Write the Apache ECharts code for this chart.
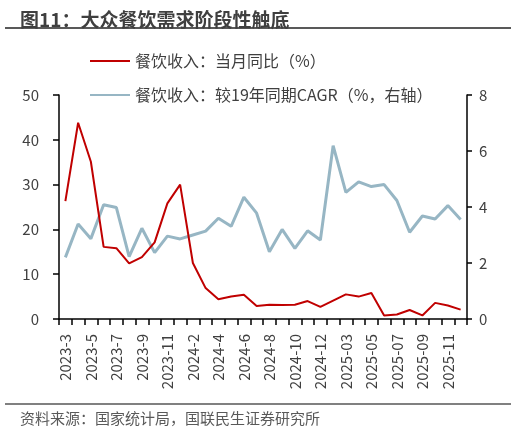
<!DOCTYPE html>
<html>
<head>
<meta charset="utf-8">
<script src="https://cdn.jsdelivr.net/npm/echarts@6/dist/echarts.min.js"></script>
<style>
html,body{margin:0;padding:0;background:#fff;}
#main{width:516px;height:432px;}
</style>
</head>
<body>
<div id="main"></div>
<script>
const categories = ['2023-3','2023-4','2023-5','2023-6','2023-7','2023-8','2023-9','2023-10','2023-11','2023-12',
  '2024-2','2024-3','2024-4','2024-5','2024-6','2024-7','2024-8','2024-9','2024-10','2024-11','2024-12',
  '2025-02','2025-03','2025-04','2025-05','2025-06','2025-07','2025-08','2025-09','2025-10','2025-11','2025-12'];
const yoyValues = [26.3,43.8,35.1,16.1,15.8,12.4,13.8,17.1,25.8,30.0,
  12.5,6.9,4.4,5.0,5.4,2.9,3.2,3.1,3.2,4.0,2.7,
  4.1,5.5,5.0,5.8,0.8,1.0,2.0,0.8,3.6,3.0,2.1];
const cagrValues = [2.2,3.39,2.87,4.08,3.98,2.23,3.24,2.37,2.96,2.86,
  3.0,3.14,3.6,3.31,4.35,3.78,2.40,3.2,2.52,3.15,2.82,
  6.19,4.52,4.9,4.73,4.8,4.23,3.1,3.68,3.57,4.05,3.55];
const leftTicks = {min:0, max:50, interval:10};
const rightTicks = {min:0, max:8, interval:2};
const seriesNames = ['餐饮收入：当月同比（%）','餐饮收入：较19年同期CAGR（%，右轴）'];
const titleText = '图11：大众餐饮需求阶段性触底';
const sourceText = '资料来源：国家统计局，国联民生证券研究所';

const FONT = '"Noto Sans CJK SC", "Noto Sans", sans-serif';
const chart = echarts.init(document.getElementById('main'));
chart.setOption({
  backgroundColor:'#fff',
  animation:false,
  textStyle:{fontFamily:FONT},
  title:[
    {text:titleText,left:15,top:5,textStyle:{fontSize:19,fontWeight:'bold',color:'#3f3f3f',fontFamily:FONT}},
    {text:sourceText,left:15,top:406,textStyle:{fontSize:15,fontWeight:'normal',color:'#595959',fontFamily:FONT}}
  ],
  graphic:[
    {type:'line',shape:{x1:5,y1:28,x2:511,y2:28},style:{stroke:'#595959',lineWidth:2}},
    {type:'line',shape:{x1:5,y1:404,x2:511,y2:404},style:{stroke:'#808080',lineWidth:2}}
  ],
  legend:{
    orient:'vertical',left:84,top:48,itemWidth:40,itemHeight:14,itemGap:18,
    itemStyle:{opacity:0},
    textStyle:{fontSize:16,color:'#404040',fontFamily:FONT},
    data:seriesNames
  },
  grid:{left:59,right:49,top:95,bottom:113,containLabel:false},
  xAxis:{
    type:'category',data:categories,boundaryGap:true,
    axisLine:{lineStyle:{color:'#000',width:1.5}},
    axisTick:{show:true,interval:0,length:6,lineStyle:{color:'#000',width:1.5}},
    axisLabel:{interval:1,rotate:90,fontSize:15,color:'#404040',margin:15,fontFamily:FONT}
  },
  yAxis:[
    {type:'value',min:leftTicks.min,max:leftTicks.max,interval:leftTicks.interval,position:'left',
     axisLine:{show:true,lineStyle:{color:'#000',width:1.5}},
     axisTick:{show:true,length:6,lineStyle:{color:'#000',width:1.5}},
     splitLine:{show:false},
     axisLabel:{fontSize:15,color:'#404040',margin:20,fontFamily:FONT}},
    {type:'value',min:rightTicks.min,max:rightTicks.max,interval:rightTicks.interval,position:'right',
     axisLine:{show:true,lineStyle:{color:'#000',width:1.5}},
     axisTick:{show:true,length:5,lineStyle:{color:'#000',width:1.5}},
     splitLine:{show:false},
     axisLabel:{fontSize:15,color:'#404040',margin:12,fontFamily:FONT}}
  ],
  series:[
    {name:seriesNames[0],type:'line',yAxisIndex:0,data:yoyValues,symbol:'none',
     lineStyle:{color:'#C00000',width:2},itemStyle:{color:'#C00000'},z:3},
    {name:seriesNames[1],type:'line',yAxisIndex:1,data:cagrValues,symbol:'none',
     lineStyle:{color:'#97B6C4',width:3},itemStyle:{color:'#97B6C4'},z:2}
  ]
});
</script>
</body>
</html>
